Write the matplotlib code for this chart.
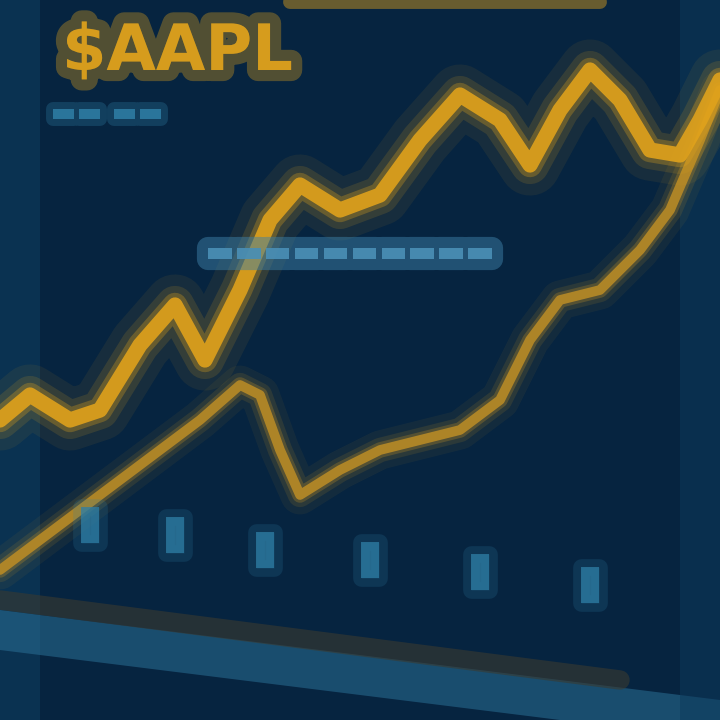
import matplotlib
matplotlib.use("Agg")
import matplotlib.pyplot as plt
import matplotlib.patheffects as pe

# ---- data ----
x_upper = [0, 30, 70, 100, 140, 175, 205, 240, 270, 300, 340, 380, 420, 460, 500, 530, 560, 590, 620, 650, 680, 700, 720]
y_upper = [300, 325, 300, 310, 375, 415, 360, 430, 500, 535, 510, 525, 580, 625, 600, 555, 610, 650, 620, 570, 565, 600, 640]

x_lower = [0, 40, 80, 120, 160, 200, 240, 260, 280, 300, 340, 380, 420, 460, 500, 530, 560, 600, 640, 670, 700, 720]
y_lower = [150, 180, 210, 240, 270, 300, 335, 325, 270, 225, 250, 270, 280, 290, 320, 380, 420, 430, 470, 510, 580, 630]

tick_x = [90, 175, 265, 370, 480, 590]
tick_y = [195, 185, 170, 160, 148, 135]
tick_labels = ["▮", "▮", "▮", "▮", "▮", "▮"]

title_text = "$AAPL"
subtitle_text = "▬▬ ▬▬"
box_text = "▬▬▬▬▬▬▬▬▬▬"

BG = "#062440"
GOLD = "#e0a21c"
GOLD2 = "#b88a26"
BLUE = "#2f7fa6"

fig = plt.figure(figsize=(7.2, 7.2), dpi=100)
fig.patch.set_facecolor(BG)
ax = fig.add_axes([0, 0, 1, 1])
ax.set_facecolor(BG)
ax.set_xlim(0, 720)
ax.set_ylim(0, 720)
ax.axis("off")

# soft background bands
ax.fill_between([0, 40], [0, 0], [720, 720], color="#0e3d5e", alpha=0.6, lw=0)
ax.fill_between([0, 720], [110, 20], [70, -20], color="#2a6f95", alpha=0.55, lw=0)
ax.plot([0, 620], [120, 40], color="#3a3a30", lw=14, alpha=0.6, solid_capstyle="round")
ax.fill_between([680, 720], [0, 0], [720, 720], color="#0d3a5c", alpha=0.5, lw=0)
ax.plot([290, 600], [718, 718], color=GOLD, lw=10, alpha=0.45, solid_capstyle="round")

# glowing lines
def glow(x, y, color, lw):
    for w, a in [(lw * 4, 0.08), (lw * 2.5, 0.15), (lw * 1.6, 0.3)]:
        ax.plot(x, y, color=color, lw=w, alpha=a, solid_capstyle="round", solid_joinstyle="round")
    ax.plot(x, y, color=color, lw=lw, alpha=0.9, solid_capstyle="round", solid_joinstyle="round")

glow(x_lower, y_lower, GOLD2, 7)
glow(x_upper, y_upper, GOLD, 11)

# tick label blobs
for tx, ty, tl in zip(tick_x, tick_y, tick_labels):
    ax.text(tx, ty, tl, color=BLUE, fontsize=34, ha="center", va="center", alpha=0.7,
            path_effects=[pe.withStroke(linewidth=12, foreground=BLUE, alpha=0.2)])

# title and labels
ax.text(62, 668, title_text, color=GOLD, fontsize=46, fontweight="bold", ha="left", va="center",
        alpha=0.9, path_effects=[pe.withStroke(linewidth=16, foreground=GOLD, alpha=0.35)])
ax.text(50, 607, subtitle_text, color=BLUE, fontsize=20, ha="left", va="center", alpha=0.8,
        path_effects=[pe.withStroke(linewidth=10, foreground=BLUE, alpha=0.3)])
ax.text(350, 467, box_text, color="#4a8fb5", fontsize=22, ha="center", va="center", alpha=0.85,
        path_effects=[pe.withStroke(linewidth=16, foreground="#3c7fa6", alpha=0.5)])

fig.savefig("out.png", dpi=100, facecolor=BG)
